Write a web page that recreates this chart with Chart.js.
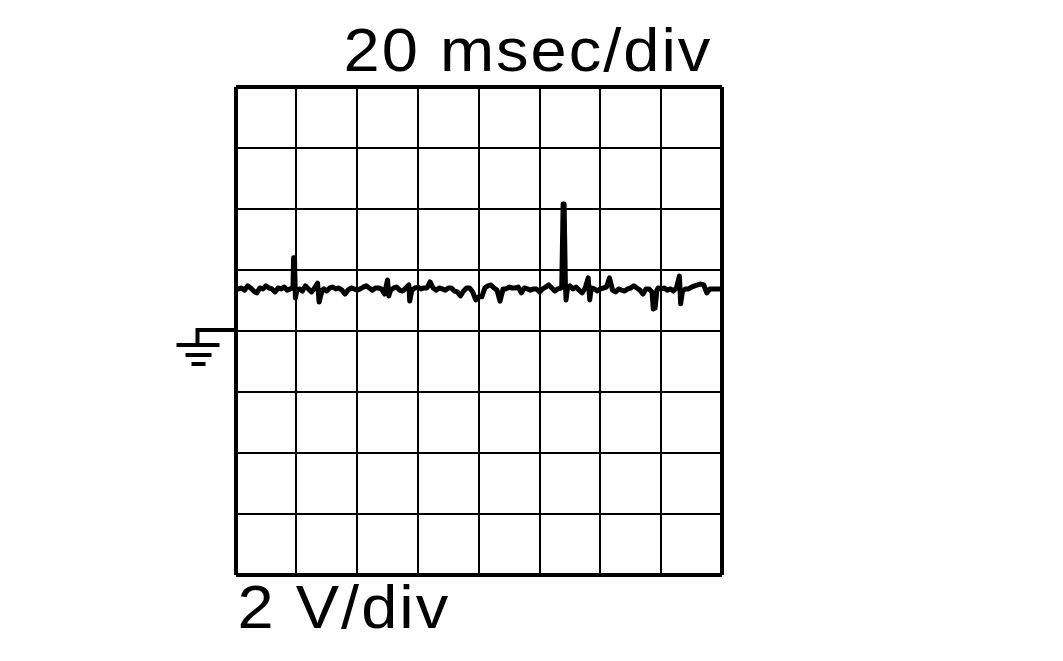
<!DOCTYPE html>
<html>
<head>
<meta charset="utf-8">
<title>Scope trace</title>
<script src="https://cdn.jsdelivr.net/npm/chart.js@4"></script>
<style>
    html, body { margin: 0; padding: 0; background: #fff; overflow: hidden; }
    canvas { display: block; }
</style>
</head>
<body>
<canvas id="scope" width="1063" height="661"></canvas>
<script>
const timeLabel = '20 msec/div'
const voltLabel = '2 V/div'

// msec (extra samples around the spikes)
const traceTimes = [
    0.5, 1, 2, 3, 4, 5, 6, 7, 8, 9, 10, 11, 12, 13, 14, 15, 16, 17, 18,
    18.9, 19.1, 19.4, 19.7, 20.2,
    21, 22, 23, 24, 25, 26, 27, 27.5, 28.5,
    29, 30, 31, 32, 33, 34, 35, 36, 37, 38, 39, 40, 41, 42, 43, 44, 45, 46, 47, 48, 49, 50, 50.4,
    51, 52, 53, 54, 55, 56, 57, 57.3,
    58, 59, 60, 61, 62, 63, 64, 65, 66, 67, 68, 69, 70, 71, 72, 73, 74, 75, 76, 77, 78, 79, 80,
    81, 82, 83, 84, 85, 86, 87, 88, 89, 90, 91, 92, 93, 94, 95, 96, 97, 98, 99, 100,
    101, 102, 103, 104, 105, 106, 107,
    107.3, 107.75, 108.07, 108.5, 108.7, 109.2,
    110, 111, 112, 113, 114, 115, 116, 116.5,
    117, 118, 119, 120, 121, 122, 123, 124, 125, 126, 127, 128, 129, 130,
    131, 132, 133, 134, 135, 136, 137, 137.4, 138, 138.6,
    139, 140, 141, 142, 143, 144, 145, 146, 146.4,
    147, 148, 149, 150, 151, 152, 153, 154, 155, 156, 157, 158, 159, 159.5
]

// volts, same order as traceTimes
const traceVolts = [
    1.38, 1.38, 1.41, 1.34, 1.48, 1.41, 1.31, 1.25, 1.41, 1.38, 1.48, 1.41, 1.38, 1.28, 1.41, 1.38, 1.44, 1.34, 1.38,
    1.41, 2.40, 2.40, 1.08, 1.34,
    1.38, 1.31, 1.48, 1.38, 1.28, 1.41, 1.57, 0.95, 1.34,
    1.38, 1.31, 1.41, 1.44, 1.38, 1.41, 1.34, 1.21, 1.34, 1.41, 1.38, 1.34, 1.38, 1.44, 1.48, 1.41, 1.34, 1.41, 1.41, 1.38, 1.21, 1.67, 1.15,
    1.34, 1.41, 1.44, 1.34, 1.31, 1.41, 1.51, 0.98,
    1.34, 1.41, 1.44, 1.38, 1.41, 1.41, 1.61, 1.41, 1.34, 1.41, 1.38, 1.34, 1.41, 1.41, 1.31, 1.28, 1.15, 1.31, 1.41, 1.41, 1.28, 1.02, 1.12,
    1.12, 1.41, 1.48, 1.51, 1.41, 1.34, 0.98, 1.38, 1.38, 1.44, 1.41, 1.41, 1.44, 1.25, 1.41, 1.38, 1.34, 1.38, 1.38, 1.28,
    1.38, 1.44, 1.51, 1.41, 1.31, 1.38, 1.41,
    1.48, 4.16, 4.16, 1.54, 1.02, 1.41,
    1.48, 1.38, 1.44, 1.34, 1.25, 1.41, 1.74, 1.02,
    1.41, 1.38, 1.31, 1.38, 1.41, 1.44, 1.74, 1.34, 1.28, 1.38, 1.34, 1.31, 1.38, 1.41,
    1.48, 1.41, 1.34, 1.21, 1.38, 1.38, 1.28, 0.72, 0.75, 1.34,
    1.41, 1.38, 1.41, 1.34, 1.38, 1.31, 1.41, 1.80, 0.89,
    1.31, 1.38, 1.38, 1.44, 1.48, 1.51, 1.54, 1.51, 1.25, 1.38, 1.38, 1.38, 1.38, 1.38
]

// ground symbol and the two captions sit outside the grid
const scopeDecor = {
    id: 'scopeDecor',
    afterDraw(chart) {
        const ctx = chart.ctx
        const left = chart.chartArea.left
        const y0 = chart.scales.y.getPixelForValue(0)

        ctx.save()
        ctx.strokeStyle = '#000'
        ctx.lineWidth = 4
        ctx.beginPath()
        ctx.moveTo(left, y0 - 1)
        ctx.lineTo(left - 38, y0 - 1)
        ctx.lineTo(left - 38, y0 + 14)
        ctx.stroke()
        ctx.beginPath()
        ctx.moveTo(left - 59, y0 + 14)
        ctx.lineTo(left - 16, y0 + 14)
        ctx.moveTo(left - 50, y0 + 24)
        ctx.lineTo(left - 24, y0 + 24)
        ctx.moveTo(left - 44, y0 + 33)
        ctx.lineTo(left - 30, y0 + 33)
        ctx.stroke()

        // the captions are set wider than the plain font
        ctx.fillStyle = '#000'
        ctx.font = '61px "Liberation Sans"'
        ctx.letterSpacing = '1.9px'
        ctx.textBaseline = 'alphabetic'
        ctx.save()
        ctx.translate(left + 108, 71)
        ctx.scale(1.065, 1)
        ctx.fillText(timeLabel, 0, 0)
        ctx.restore()
        ctx.save()
        ctx.translate(left + 2, 628)
        ctx.scale(1.065, 1)
        ctx.fillText(voltLabel, 0, 0)
        ctx.restore()
        ctx.restore()
    }
}

const edgeWidth = (scale) => (context) =>
    context.tick && (context.tick.value === scale[0] || context.tick.value === scale[1]) ? 4 : 2

new Chart(document.getElementById('scope'), {
    type: 'line',
    data: {
        datasets: [{
            data: traceTimes.map((t, i) => ({x: t, y: traceVolts[i]})),
            borderColor: '#000',
            borderWidth: 5,
            borderJoinStyle: 'round',
            pointRadius: 0,
            tension: 0
        }]
    },
    options: {
        responsive: false,
        animation: false,
        events: [],
        layout: {
            padding: {left: 235.5, top: 87, right: 341, bottom: 86}
        },
        plugins: {
            legend: {display: false},
            title: {display: false},
            tooltip: {enabled: false}
        },
        scales: {
            x: {
                type: 'linear',
                min: 0,
                max: 160,
                border: {display: false},
                grid: {color: '#000', lineWidth: edgeWidth([0, 160]), drawTicks: false},
                ticks: {display: false, stepSize: 20}
            },
            y: {
                min: -8,
                max: 8,
                border: {display: false},
                grid: {color: '#000', lineWidth: edgeWidth([-8, 8]), drawTicks: false},
                ticks: {display: false, stepSize: 2}
            }
        }
    },
    plugins: [scopeDecor]
})
</script>
</body>
</html>
